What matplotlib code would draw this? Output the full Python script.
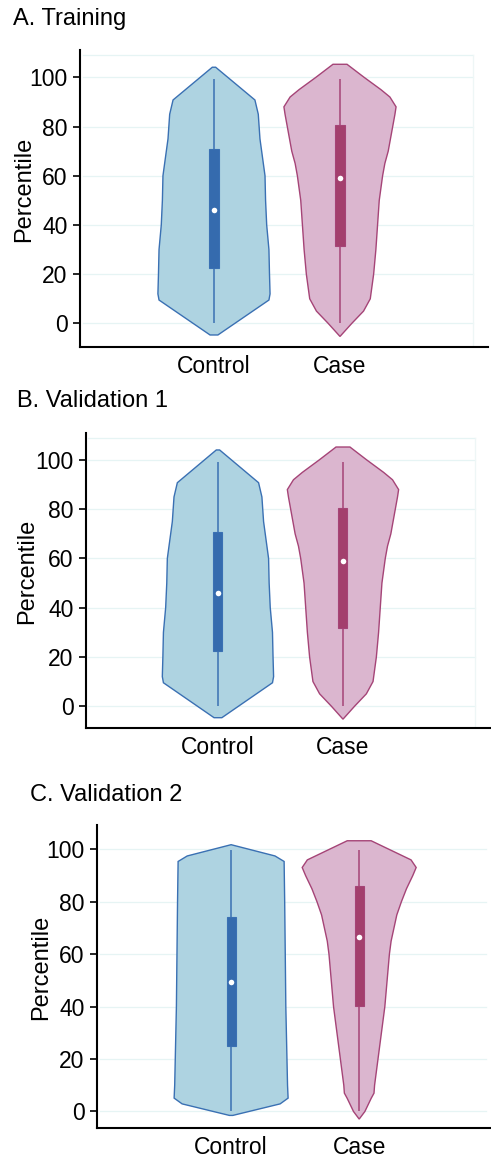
import numpy as np
import matplotlib.pyplot as plt

plt.rcParams['font.family'] = ['Liberation Sans', 'DejaVu Sans']

groups = ['Control', 'Case']
titles = ['A. Training', 'B. Validation 1', 'C. Validation 2']

# violin outlines: percentile level -> relative half width
ctrl_lev_a = [-4.7, 9.5, 12, 20, 30, 40, 50, 60, 65, 75, 85, 90.8, 104.1]
ctrl_wid_a = [0.07, 0.98, 1.0, 0.99, 0.98, 0.94, 0.92, 0.91, 0.88, 0.82, 0.79, 0.73, 0.03]
case_lev_a = [-5.3, 0, 5, 10, 15, 20, 30, 40, 50, 60, 65, 70, 80, 85, 88, 92, 95, 100, 105.3]
case_wid_a = [0.0, 0.21, 0.42, 0.54, 0.57, 0.60, 0.64, 0.67, 0.70, 0.76, 0.80, 0.86, 0.94, 0.98,
              1.0, 0.89, 0.73, 0.43, 0.125]

ctrl_lev_b = [-4.7, 9.5, 12, 20, 30, 40, 50, 60, 65, 75, 85, 90.8, 104.1]
ctrl_wid_b = [0.07, 0.98, 1.0, 0.99, 0.98, 0.94, 0.92, 0.91, 0.88, 0.82, 0.79, 0.73, 0.03]
case_lev_b = [-5.3, 0, 5, 10, 15, 20, 30, 40, 50, 60, 65, 70, 80, 85, 88, 92, 95, 100, 105.3]
case_wid_b = [0.0, 0.21, 0.42, 0.54, 0.57, 0.60, 0.64, 0.67, 0.70, 0.76, 0.80, 0.86, 0.94, 0.98,
              1.0, 0.89, 0.73, 0.43, 0.125]

ctrl_lev_c = [-1.5, 2.9, 5.1, 10, 20, 40, 60, 80, 95.4, 97.5, 101.8]
ctrl_wid_c = [0.03, 0.86, 1.0, 0.99, 0.98, 0.96, 0.95, 0.94, 0.93, 0.77, 0.0]
case_lev_c = [-2.9, 0, 5, 7, 10, 20, 30, 40, 50, 60, 65, 70, 75, 80, 85, 90, 93.1, 96, 103.3]
case_wid_c = [0.0, 0.10, 0.21, 0.26, 0.27, 0.33, 0.39, 0.45, 0.49, 0.53, 0.56, 0.61, 0.66, 0.74,
              0.83, 0.94, 1.0, 0.91, 0.21]

# box stats: [whisker low, q1, median, q3, whisker high]
ctrl_box_a = [0, 22.7, 46.1, 70.8, 99.2]
case_box_a = [0, 31.6, 58.9, 80.5, 99.2]
ctrl_box_b = [0, 22.6, 46.1, 70.9, 99.2]
case_box_b = [0, 31.6, 58.9, 80.6, 99.2]
ctrl_box_c = [0, 24.8, 49.4, 74.3, 99.7]
case_box_c = [0, 40.3, 66.6, 86.0, 99.7]

ctrl_fill, ctrl_edge, ctrl_boxc = '#aed3e1', '#3a70b3', '#356bae'
case_fill, case_edge, case_boxc = '#dbb6cf', '#a54477', '#a33f6d'

fig = plt.figure(figsize=(4.91, 11.63), dpi=100)

panels = [
    dict(rect=[0.163, 0.7016, 0.831, 0.2554], xlim=(-0.063, 3.175), ylim=(-9.6, 111.1),
         grid=(0.007, 0.963), border=True, ylab_x=-0.11, title_xy=(13, 7.5),
         violins=[(ctrl_lev_a, ctrl_wid_a, ctrl_box_a), (case_lev_a, case_wid_a, case_box_a)]),
    dict(rect=[0.175, 0.374, 0.823, 0.2537], xlim=(-0.056, 3.176), ylim=(-8.9, 111.0),
         grid=(0.005, 0.963), border=True, ylab_x=-0.119, title_xy=(17, 390),
         violins=[(ctrl_lev_b, ctrl_wid_b, ctrl_box_b), (case_lev_b, case_wid_b, case_box_b)]),
    dict(rect=[0.1976, 0.0301, 0.800, 0.2605], xlim=(-0.047, 3.02), ylim=(-6.3, 109.3),
         grid=(0.008, 0.99), border=False, ylab_x=-0.115, title_xy=(30, 784),
         violins=[(ctrl_lev_c, ctrl_wid_c, ctrl_box_c), (case_lev_c, case_wid_c, case_box_c)]),
]

max_half = 0.445
box_w = 0.072

for title, p in zip(titles, panels):
    ax = fig.add_axes(p['rect'])
    ax.set_xlim(*p['xlim'])
    ax.set_ylim(*p['ylim'])

    g0, g1 = p['grid']
    for yv in range(0, 101, 20):
        ax.axhline(yv, g0, g1, color='#e6f4f4', lw=0.9, zorder=0)
    if p['border']:
        ax.axhline(109, g0, g1, color='#e6f4f4', lw=0.9, zorder=0)
        ax.plot([g1, g1], [0, (109 - p['ylim'][0]) / (p['ylim'][1] - p['ylim'][0])],
                transform=ax.transAxes, color='#eef6f6', lw=0.9, zorder=0)

    styles = [(ctrl_fill, ctrl_edge, ctrl_boxc), (case_fill, case_edge, case_boxc)]
    for pos, (lev, wid, box), (fc, ec, bc) in zip([1, 2], p['violins'], styles):
        lev = np.array(lev)
        half = np.array(wid) * max_half
        xs = np.concatenate([pos - half, (pos + half)[::-1]])
        ys = np.concatenate([lev, lev[::-1]])
        ax.fill(xs, ys, facecolor=fc, edgecolor=ec, lw=1.0, zorder=2)
        ax.vlines(pos, box[0], box[4], color=ec, lw=1.1, zorder=3)
        ax.bar(pos, box[3] - box[1], bottom=box[1], width=box_w, color=bc,
               edgecolor=ec, lw=0.8, zorder=4)
        ax.scatter([pos], [box[2]], s=16, color='white', zorder=5, linewidths=0)

    for side in ['top', 'right']:
        ax.spines[side].set_visible(False)
    for side in ['left', 'bottom']:
        ax.spines[side].set_linewidth(1.5)
        ax.spines[side].set_color('black')

    ax.set_yticks(range(0, 101, 20))
    ax.set_xticks([1, 2])
    ax.set_xticklabels(groups)
    ax.tick_params(axis='y', labelsize=16.5, length=5, width=1.2, pad=4)
    ax.tick_params(axis='x', labelsize=16.5, length=0, pad=6)
    ax.set_ylabel('Percentile', fontsize=17)
    ax.yaxis.set_label_coords(p['ylab_x'], 0.53)

    tx, ty = p['title_xy']
    fig.text(tx / 491, 1 - ty / 1163, title, fontsize=17, ha='left', va='top')

fig.savefig('out.png', dpi=100)
